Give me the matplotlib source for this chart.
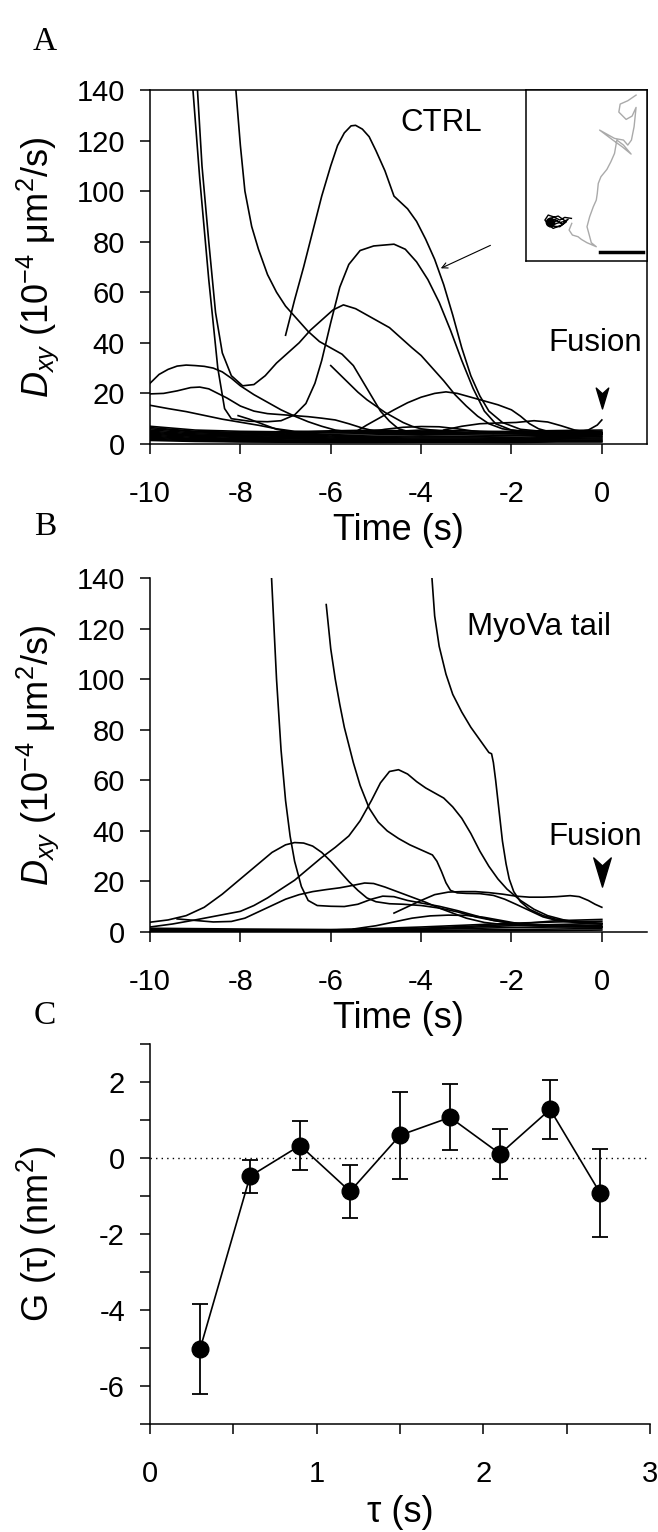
#!/usr/bin/env python3
"""
Three-panel figure: Dxy traces before fusion (CTRL, MyoVa tail) and G(tau)
"""

import matplotlib.pyplot as plt
from matplotlib.path import Path

plt.rcParams["font.family"] = ["Liberation Sans", "DejaVu Sans"]
plt.rcParams["mathtext.fontset"] = "custom"
plt.rcParams["mathtext.rm"] = "Liberation Sans"
plt.rcParams["mathtext.it"] = "Liberation Sans:italic"
plt.rcParams["axes.unicode_minus"] = False
plt.rcParams["font.size"] = 21

# ---- panel A: CTRL traces (time in s, Dxy in 1e-4 um^2/s) ----
ctrl_curves = [
    ([-9.05, -8.9, -8.7, -8.5, -8.35, -8.2, -7.8, -7.4, -7.1, -6.8, -6.55, -6.35, -6.2, -6.0, -5.8, -5.6,
      -5.35, -5.05, -4.6, -4.35, -4.1, -3.85, -3.6, -3.35, -3.1, -2.85, -2.6, -2.35, -2.0, -1.5, -0.8, 0],
     [140, 105, 65, 30, 14, 10, 9, 8.8, 9.2, 11.5, 16, 24, 33, 48, 62, 71,
      76.5, 78.3, 79, 77, 72, 65, 56, 45, 33, 22, 13, 8, 5.5, 4.8, 4.5, 4.3]),
    ([-8.95, -8.85, -8.7, -8.55, -8.4, -8.2, -7.95, -7.7, -7.45, -7.2, -6.95, -6.7, -6.45, -6.2, -5.95,
      -5.72, -5.45, -5.2, -4.95, -4.7, -4.45, -4.2, -4.0, -3.75, -3.5, -3.25, -3.0, -2.75, -2.5, -2.2,
      -1.8, -1.0, 0],
     [140, 110, 80, 52, 36, 27, 23, 23.5, 27, 32, 36, 40, 45, 49, 53,
      55, 53.5, 51, 48.5, 46, 42, 38, 35, 30, 25, 19.5, 15, 11, 8, 6,
      5, 4.5, 4.2]),
    ([-8.1, -8.0, -7.9, -7.75, -7.6, -7.4, -7.2, -7.0, -6.75, -6.5, -6.25, -6.0, -5.75, -5.5, -5.3, -5.1,
      -4.9, -4.7, -4.5, -4.3, -4.0, -3.5, -2.5, -1.2, 0],
     [140, 118, 100, 86, 77, 67, 60, 54.5, 49.5, 44.5, 40.5, 38, 35.5, 31, 25, 19,
      13, 9, 6, 5, 4.6, 4.4, 4.3, 4.2, 4.0]),
    ([-7.0, -6.8, -6.6, -6.4, -6.2, -6.0, -5.85, -5.7, -5.55, -5.45, -5.3, -5.15, -5.0, -4.8, -4.6,
      -4.45, -4.3, -4.1, -3.9, -3.7, -3.5, -3.3, -3.1, -2.9, -2.7, -2.5, -2.2, -1.8, -1.2, -0.5, 0],
     [43, 57, 70, 84, 98, 110, 118, 123, 125.8, 126, 124.5, 121.5, 116, 108, 98,
      95.5, 93, 88, 81, 73, 63, 51, 38, 27, 19, 13, 8.5, 5.8, 4.8, 4.5, 4.5]),
    ([-6.0, -5.8, -5.6, -5.4, -5.2, -5.0, -4.8, -4.6, -4.4, -4.2, -4.0, -3.5, -3.0, -2.0, -1.0, 0],
     [31, 27.5, 24, 20.5, 17.5, 15, 12.5, 10.5, 8.5, 7, 6, 5, 4.6, 4.4, 4.2, 4]),
    ([-10, -9.8, -9.6, -9.4, -9.2, -9.0, -8.8, -8.6, -8.4, -8.2, -8.0, -7.7, -7.4, -7.1, -6.8, -6.5,
      -6.2, -5.9, -5.5, -4.5, -3, -1.5, 0],
     [24, 27.5, 29.5, 30.8, 31.2, 31, 30.7, 30, 28.5, 26, 23, 19.5, 16.5, 13.5, 11, 8.8,
      7, 5.5, 4.6, 4.3, 4.2, 4.1, 4]),
    ([-10, -9.7, -9.4, -9.1, -8.9, -8.7, -8.5, -8.3, -8.0, -7.7, -7.4, -7.1, -6.8, -6.5, -6.2, -5.9,
      -5.6, -5.3, -5.0, -4, -2, 0],
     [19.8, 20, 21, 22.3, 22.5, 21.8, 20, 18.2, 15, 13, 12, 11.6, 11.2, 10.8, 10.2, 9.5,
      8, 6.3, 5, 4.4, 4.2, 4]),
    ([-10, -9.6, -9.2, -8.8, -8.4, -8.0, -7.6, -7.2, -6.8, -6, -4, -2, 0],
     [15.3, 14, 12.8, 11.3, 9.8, 8.6, 7.4, 6, 5, 4.5, 4.2, 4.1, 4]),
    ([-8.05, -7.8, -7.5, -7.2, -6.9, -6.5],
     [11.2, 9.8, 7.8, 5.8, 4.8, 4.4]),
    ([-5.45, -5.2, -4.9, -4.6, -4.3, -4.0, -3.7, -3.45, -3.2, -2.9, -2.6, -2.3, -2.0, -1.8, -1.6, -1.4,
      -1.2, -0.8, 0],
     [4.8, 7.5, 10.5, 13.5, 16.3, 18.5, 20, 20.6, 20, 18.5, 17, 15.5, 13.5, 11, 8, 6,
      5, 4.5, 4.2]),
    ([-3.5, -3.1, -2.7, -2.3, -1.9, -1.5, -1.2, -0.9, -0.6, -0.3, 0],
     [5.5, 7, 8, 8.3, 8.5, 9.2, 8.7, 7.2, 5.5, 4.6, 4.4]),
    ([-1.0, -0.6, -0.3, -0.1, 0],
     [4.5, 4.6, 5.5, 7.5, 9.5]),
    ([-5.2, -4.8, -4.4, -4.0, -3.6, -3.2, -2.8, -2.4],
     [4.6, 5.8, 6.6, 6.9, 6.8, 6, 5, 4.2]),
]

# dense bundle of slow vesicles near the bottom of panel A
ctrl_low_t = [-10, -9, -8, -7, -6, -5, -4, -3, -2, -1, 0]
ctrl_low = [
    [7.0, 5.5, 5.0, 4.8, 5.2, 5.5, 5.0, 4.6, 5.0, 5.3, 5.5],
    [6.5, 5.0, 4.6, 4.5, 4.8, 4.6, 5.5, 5.2, 4.8, 4.5, 5.0],
    [6.0, 4.8, 4.2, 4.0, 4.4, 5.0, 4.6, 4.2, 4.4, 4.8, 4.6],
    [5.5, 4.4, 4.0, 3.6, 3.8, 4.2, 4.0, 4.4, 4.0, 3.8, 4.2],
    [5.0, 4.0, 3.6, 3.4, 3.2, 3.6, 3.8, 3.6, 3.4, 3.8, 3.9],
    [4.6, 3.6, 3.3, 3.0, 2.8, 3.0, 3.2, 3.0, 3.2, 3.4, 3.5],
    [4.2, 3.3, 3.0, 2.6, 2.4, 2.6, 2.8, 2.8, 2.6, 3.0, 3.1],
    [3.8, 3.0, 2.6, 2.3, 2.0, 2.2, 2.4, 2.4, 2.2, 2.6, 2.8],
    [3.4, 2.6, 2.2, 2.0, 1.8, 1.9, 2.0, 2.0, 1.9, 2.2, 2.4],
    [3.0, 2.2, 1.9, 1.6, 1.5, 1.6, 1.7, 1.7, 1.6, 1.9, 2.0],
    [2.6, 1.9, 1.6, 1.4, 1.2, 1.3, 1.4, 1.4, 1.3, 1.5, 1.6],
    [2.2, 1.6, 1.3, 1.1, 1.0, 1.0, 1.1, 1.1, 1.0, 1.2, 1.3],
    [1.8, 1.3, 1.0, 0.9, 0.8, 0.8, 0.9, 0.9, 0.8, 1.0, 1.0],
    [1.4, 1.0, 0.8, 0.7, 0.6, 0.6, 0.7, 0.7, 0.6, 0.8, 0.8],
]

# inset trajectories (pixel units of the inset image)
traj_gray_x = [410, 385, 362, 358, 380, 398, 410, 404, 396, 385, 372, 345, 300, 340, 368, 395, 372, 352, 345,
               334, 322, 304, 296, 293, 290, 281, 270, 262, 268, 275, 290, 262, 245, 235, 218, 208, 216]
traj_gray_y = [45, 62, 72, 96, 118, 108, 82, 140, 180, 195, 180, 175, 150, 180, 200, 222, 195, 180, 220,
               245, 268, 290, 310, 340, 360, 380, 410, 440, 462, 488, 500, 488, 478, 470, 465, 450, 430]
traj_black_x = [215, 195, 180, 160, 145, 135, 150, 170, 190, 205, 185, 160, 140, 150, 175, 200, 180, 155,
                140, 165, 185, 170, 150, 158]
traj_black_y = [415, 412, 420, 410, 405, 420, 440, 430, 425, 418, 435, 445, 430, 415, 408, 425, 440, 438,
                428, 418, 430, 422, 432, 425]

# ---- panel B: MyoVa tail traces ----
myo_curves = [
    ([-7.31, -7.2, -7.1, -7.0, -6.9, -6.8, -6.65, -6.5, -6.3, -6.0, -5.7, -5.4, -5.1, -4.85, -4.6, -4.3,
      -4.0, -3.6, -3.2, -2.8, -2.4, -2.0, -1.5, -1.0, 0],
     [140, 100, 72, 52, 38, 28, 18, 12.5, 10.5, 10.2, 10.1, 11, 13, 14.2, 14, 12.5,
      11.5, 10.2, 8.5, 6.5, 4.6, 3.5, 3, 2.8, 2.6]),
    ([-6.1, -6.0, -5.9, -5.8, -5.7, -5.6, -5.5, -5.35, -5.15, -4.95, -4.75, -4.5, -4.25, -4.0, -3.75,
      -3.65, -3.55, -3.45, -3.35, -3.2, -3.0, -2.7, -2.4, -2.15, -1.9, -1.6, -1.3, -1.0, -0.5, 0],
     [129.5, 112, 100, 90, 81, 74, 67, 58, 49, 43.5, 40, 37, 34.5, 32.5, 30.5,
      28, 24, 19.5, 16.5, 15.5, 15.3, 15.2, 14.5, 13, 11, 8.5, 6, 4.6, 3.6, 3.3]),
    ([-3.76, -3.7, -3.6, -3.45, -3.3, -3.1, -2.9, -2.7, -2.5, -2.44, -2.4, -2.35, -2.3, -2.25, -2.2,
      -2.12, -2.05, -1.95, -1.8, -1.6, -1.3, -1.0, -0.5, 0],
     [140, 125, 113, 102, 94, 87, 81, 76, 71, 70.5, 67, 60, 52, 44, 36,
      27, 21, 16, 12, 9, 6.5, 5, 4, 3.5]),
    ([-10, -9.5, -9.0, -8.5, -8.0, -7.7, -7.4, -7.1, -6.8, -6.5, -6.2, -5.9, -5.6, -5.35, -5.1, -4.9,
      -4.7, -4.5, -4.3, -4.1, -3.9, -3.7, -3.5, -3.3, -3.1, -2.9, -2.7, -2.5, -2.3, -2.1, -1.8, -1.5,
      -1.2, -0.8, -0.4, 0],
     [2, 3.2, 4.8, 6.5, 8.2, 10.5, 13.5, 17, 20.5, 25, 29.5, 33.5, 38, 44, 52, 59,
      63.5, 64.2, 62.5, 59.5, 57, 55, 53, 49.5, 45, 39, 32, 26, 21, 17, 12.5, 9,
      6.5, 4.6, 3.6, 3.1]),
    ([-10, -9.6, -9.2, -8.8, -8.4, -8.0, -7.6, -7.3, -7.0, -6.8, -6.6, -6.4, -6.2, -6.0, -5.8, -5.6,
      -5.4, -5.2, -5.0, -4.7, -4.4, -4.0, -3.6, -3.2, -2.8, -2.4, -2.0, -1.5, -1.0, 0],
     [3.9, 4.8, 6.5, 9.8, 15, 21, 27, 31.5, 34.5, 35.4, 35.2, 34, 31.5, 28, 24, 20,
      16.5, 13.5, 12, 11.2, 11, 10.5, 9.5, 8, 6, 4.6, 3.5, 2.6, 2.2, 2.0]),
    ([-9.4, -9.0, -8.6, -8.2, -7.9, -7.6, -7.3, -7.0, -6.7, -6.4, -6.1, -5.8, -5.5, -5.25, -5.05, -4.8,
      -4.5, -4.2, -3.9, -3.6, -3.3, -3.0, -2.6, -2.2, -1.6, -0.8, 0],
     [5.2, 4.6, 4, 4.2, 5.5, 8, 10.5, 13, 14.8, 16, 16.8, 17.5, 18.5, 19.4, 19.2, 17.8,
      15.8, 13.8, 11.8, 9.5, 7.5, 5.5, 3.8, 3, 2.5, 2.2, 2.0]),
    ([-4.6, -4.3, -4.0, -3.7, -3.4, -3.1, -2.8, -2.5, -2.2, -1.9, -1.6, -1.3, -1.0, -0.7, -0.5, -0.3,
      -0.15, 0],
     [7.5, 10, 12.5, 14.8, 15.8, 16, 16, 15.6, 15, 14.2, 13.8, 13.8, 14, 14.4, 14, 12.5,
      11, 9.8]),
    ([-5.5, -5.0, -4.6, -4.2, -3.8, -3.4, -3.0, -2.6, -2.2, -1.8, -1.2, 0],
     [1.2, 2.5, 4, 5.5, 6.4, 6.7, 6.6, 5.8, 4.5, 3.2, 2.4, 2.0]),
]

myo_low_t = [-10, -8, -6, -4, -2, -1, 0]
myo_low = [
    [1.5, 1.2, 1.0, 1.5, 3.0, 4.5, 5.0],
    [1.0, 0.8, 0.8, 2.0, 3.5, 4.0, 4.3],
    [0.8, 0.6, 0.6, 1.2, 2.5, 3.0, 3.4],
    [0.5, 0.4, 0.5, 1.0, 1.8, 2.0, 2.2],
    [0.3, 0.3, 0.4, 0.6, 1.0, 1.2, 1.4],
    [0.2, 0.2, 0.2, 0.3, 0.5, 0.6, 0.8],
]

# ---- panel C: G(tau) ----
tau = [0.3, 0.6, 0.9, 1.2, 1.5, 1.8, 2.1, 2.4, 2.7]
g_tau = [-5.03, -0.48, 0.33, -0.88, 0.6, 1.07, 0.11, 1.28, -0.92]
g_err = [1.18, 0.44, 0.64, 0.7, 1.15, 0.87, 0.66, 0.78, 1.15]

LW = 1.1
LABEL_SIZE = 26
NOTE_SIZE = 22.5
fusion_marker = Path([(0, -1), (-0.6, 1), (0, 0.45), (0.6, 1), (0, -1)],
                     [Path.MOVETO, Path.LINETO, Path.LINETO, Path.LINETO, Path.CLOSEPOLY])


def style_axis(ax, box):
    for side in ["left", "bottom", "top", "right"]:
        ax.spines[side].set_linewidth(LW)
    if not box:
        ax.spines["top"].set_visible(False)
        ax.spines["right"].set_visible(False)
    ax.tick_params(direction="out", length=7, width=LW, labelsize=21)
    ax.tick_params(axis="x", pad=19)
    ax.tick_params(axis="y", pad=11)


def place_labels(ax, xlab_y, ylab_x):
    ax.xaxis.set_label_coords(0.5, xlab_y)
    ax.xaxis.label.set_verticalalignment("center")
    ax.yaxis.set_label_coords(ylab_x, 0.5)
    ax.yaxis.label.set_verticalalignment("center")


def dxy_panel(ax, curves, low_t, low, box):
    for vals in low:
        ax.plot(low_t, vals, color="black", lw=1.2, solid_joinstyle="round")
    for t, d in curves:
        ax.plot(t, d, color="black", lw=1.2, solid_joinstyle="round")
    ax.set_xlim(-10, 1)
    ax.set_ylim(0, 140)
    ax.set_xticks([-10, -8, -6, -4, -2, 0])
    ax.set_yticks(range(0, 141, 20))
    ax.set_xlabel("Time (s)", fontsize=LABEL_SIZE)
    ax.set_ylabel(r"$D_{xy}$ (10$^{-4}$ μm$^{2}$/s)", fontsize=LABEL_SIZE)
    style_axis(ax, box)
    place_labels(ax, -0.243, -0.227)


fig = plt.figure(figsize=(6.58, 15.32), dpi=100)

# panel A
ax_a = fig.add_axes([0.228, 0.7102, 0.7553, 0.2311])
dxy_panel(ax_a, ctrl_curves, ctrl_low_t, ctrl_low, box=True)
ax_a.text(-3.56, 127, "CTRL", ha="center", va="center", fontsize=NOTE_SIZE)
ax_a.text(-0.15, 40, "Fusion", ha="center", va="center", fontsize=NOTE_SIZE)
ax_a.plot([0], [18], marker=fusion_marker, ms=15, color="black", clip_on=False)
ax_a.annotate("", xy=(-3.62, 69), xytext=(-2.41, 79),
              arrowprops=dict(arrowstyle="->", lw=0.8, color="black", mutation_scale=10))

# inset with the trajectories
ax_in = fig.add_axes([0.7994, 0.8296, 0.1839, 0.1116])
ax_in.plot(traj_gray_x, traj_gray_y, color="#aaaaaa", lw=1.0)
ax_in.plot(traj_black_x, traj_black_y, color="black", lw=1.0)
ax_in.plot([150], [425], "o", color="black", ms=6)
ax_in.plot([300, 430], [517, 517], color="black", lw=2.5)
ax_in.set_xlim(78, 443)
ax_in.set_ylim(543, 30)
ax_in.set_xticks([])
ax_in.set_yticks([])
for side in ["left", "bottom", "top", "right"]:
    ax_in.spines[side].set_linewidth(LW)

# panel B
ax_b = fig.add_axes([0.228, 0.3916, 0.7553, 0.2311])
dxy_panel(ax_b, myo_curves, myo_low_t, myo_low, box=False)
ax_b.text(-1.4, 120.5, "MyoVa tail", ha="center", va="center", fontsize=NOTE_SIZE)
ax_b.text(-0.15, 37.6, "Fusion", ha="center", va="center", fontsize=NOTE_SIZE)
ax_b.plot([0], [23.7], marker=fusion_marker, ms=21, color="black", clip_on=False)

# panel C
ax_c = fig.add_axes([0.228, 0.0705, 0.76, 0.248])
ax_c.axhline(0, color="black", lw=1.0, ls=(0, (1, 3)))
ax_c.errorbar(tau, g_tau, yerr=g_err, fmt="-o", color="black", lw=1.2, ms=12,
              capsize=6, capthick=1.3, elinewidth=1.3, clip_on=False)
ax_c.set_xlim(0, 3)
ax_c.set_ylim(-7, 3)
ax_c.set_xticks([0, 1, 2, 3])
ax_c.set_xticks([0.5, 1.5, 2.5], minor=True)
ax_c.set_yticks([-6, -4, -2, 0, 2])
ax_c.set_yticks([-7, -5, -3, -1, 1, 3], minor=True)
ax_c.set_xlabel("τ (s)", fontsize=LABEL_SIZE)
ax_c.set_ylabel("G (τ) (nm$^{2}$)", fontsize=LABEL_SIZE)
style_axis(ax_c, box=False)
ax_c.tick_params(which="minor", direction="out", length=7, width=LW)
place_labels(ax_c, -0.232, -0.226)

# panel letters
for letter, ypos in [("A", 0.973), ("B", 0.656), ("C", 0.337)]:
    fig.text(0.068, ypos, letter, family="Liberation Serif", fontsize=24, ha="center", va="center")

fig.savefig("out.png", dpi=100)
plt.close(fig)
